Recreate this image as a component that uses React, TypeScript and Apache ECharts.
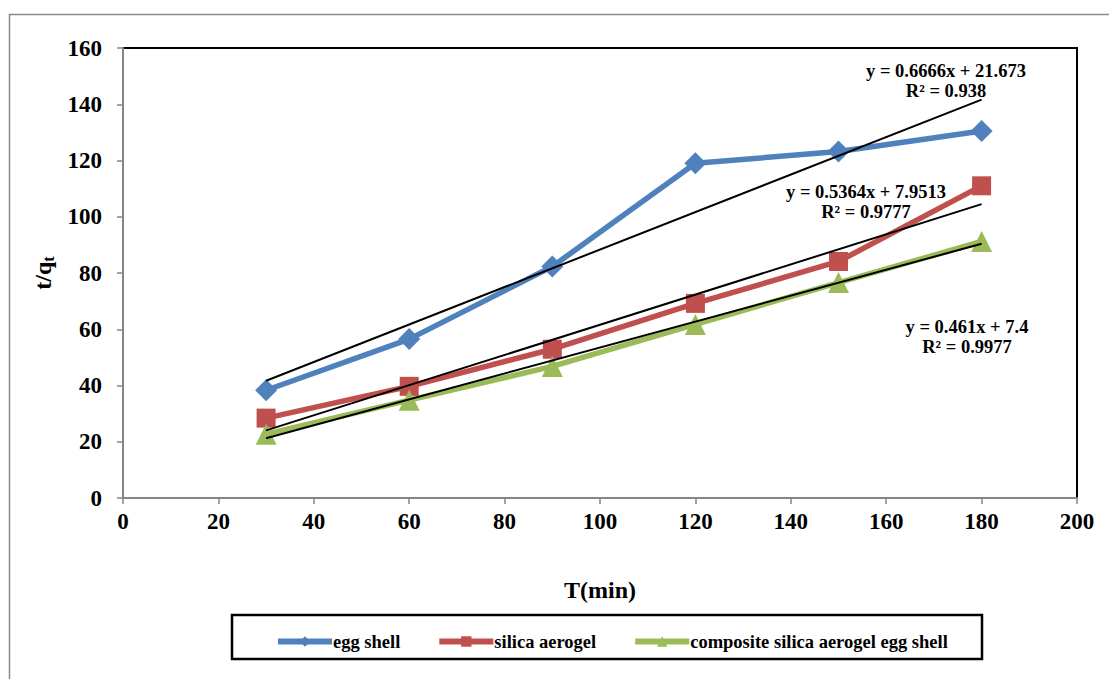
import React, { useEffect, useRef } from "react";
import * as echarts from "echarts";

const timeMin = [30, 60, 90, 120, 150, 180];
const eggShell = [38.3, 56.5, 82.3, 119.0, 123.2, 130.5];
const silicaAerogel = [28.4, 39.7, 52.9, 69.2, 84.1, 111.0];
const composite = [22.7, 34.8, 46.8, 61.7, 76.6, 91.2];

const trendSlopes = [0.6666, 0.5364, 0.461];
const trendIntercepts = [21.673, 7.9513, 7.4];
const trendEquations = ["y = 0.6666x + 21.673", "y = 0.5364x + 7.9513", "y = 0.461x + 7.4"];
const trendR2 = ["R² = 0.938", "R² = 0.9777", "R² = 0.9977"];

const seriesNames = ["egg shell", "silica aerogel", "composite silica aerogel egg shell"];
const xTicks = [0, 200, 20];
const yTicks = [0, 160, 20];

const FONT = "Liberation Serif";

export default function App() {
  const ref = useRef<HTMLDivElement>(null);
  useEffect(() => {
    const chart = echarts.init(ref.current!, null, { renderer: "svg" });
    const pairs = (ys: number[]) => timeMin.map((x, i) => [x, ys[i]]);
    const trend = (k: number) => [
      [timeMin[0], trendSlopes[k] * timeMin[0] + trendIntercepts[k]],
      [timeMin[timeMin.length - 1], trendSlopes[k] * timeMin[timeMin.length - 1] + trendIntercepts[k]],
    ];
    const colors = ["#4F81BD", "#C0504D", "#9BBB59"];
    const symbols = ["diamond", "rect", "triangle"];
    const sizes = [22, 19, 21];
    const datasets = [eggShell, silicaAerogel, composite];
    const labelPos = [
      [946, 71],
      [866, 192],
      [967, 327],
    ];
    const textStyle = { fontFamily: FONT, fontWeight: "bold" as const, color: "#000" };
    chart.setOption({
      animation: false,
      backgroundColor: "#fff",
      grid: {
        left: 123,
        top: 48,
        right: 32,
        bottom: 181,
        show: true,
        borderColor: "#000",
        borderWidth: 2,
        backgroundColor: "transparent",
      },
      xAxis: {
        type: "value",
        min: xTicks[0],
        max: xTicks[1],
        interval: xTicks[2],
        splitLine: { show: false },
        axisLine: { show: true, lineStyle: { color: "#868686", width: 2 } },
        axisTick: { show: true, length: 6, lineStyle: { color: "#868686", width: 1.5 } },
        axisLabel: { ...textStyle, fontSize: 23, margin: 12 },
        name: "T(min)",
        nameLocation: "middle",
        nameGap: 80,
        nameTextStyle: { ...textStyle, fontSize: 24 },
      },
      yAxis: {
        type: "value",
        min: yTicks[0],
        max: yTicks[1],
        interval: yTicks[2],
        splitLine: { show: false },
        axisLine: { show: true, lineStyle: { color: "#868686", width: 2 } },
        axisTick: { show: true, length: 6, lineStyle: { color: "#868686", width: 1.5 } },
        axisLabel: { ...textStyle, fontSize: 23, margin: 21 },
        name: "{a|t/q}{b|t}",
        nameLocation: "middle",
        nameGap: 66,
        nameRotate: 90,
        nameTextStyle: {
          ...textStyle,
          fontSize: 24,
          rich: {
            a: { ...textStyle, fontSize: 24 },
            b: { ...textStyle, fontSize: 16, padding: [12, 0, 0, 0] },
          },
        },
      },
      legend: {
        left: 270,
        top: 627,
        itemWidth: 54,
        itemHeight: 13,
        itemGap: 36,
        textStyle: { ...textStyle, fontSize: 18.5, padding: [0, 0, 0, -4] },
        lineStyle: { width: 6 },
        data: seriesNames,
      },
      graphic: [
        {
          type: "rect",
          shape: { x: 9.5, y: 14.5, width: 1120, height: 700 },
          style: { fill: "none", stroke: "#8a8a8a", lineWidth: 1.5 },
          silent: true,
          z: -1,
        },
        {
          type: "rect",
          shape: { x: 232, y: 615, width: 750, height: 44 },
          style: { fill: "none", stroke: "#000", lineWidth: 2.5 },
          silent: true,
        },
        ...labelPos.flatMap((p, i) => [
          {
            type: "text",
            x: p[0],
            y: p[1],
            style: { text: trendEquations[i], font: `bold 18.5px "${FONT}"`, fill: "#000", align: "center", verticalAlign: "middle" },
            z: 100,
          },
          {
            type: "text",
            x: p[0],
            y: p[1] + 20,
            style: { text: trendR2[i], font: `bold 18.5px "${FONT}"`, fill: "#000", align: "center", verticalAlign: "middle" },
            z: 100,
          },
        ]),
      ],
      series: [
        ...datasets.map((d, i) => ({
          name: seriesNames[i],
          type: "line",
          data: pairs(d),
          symbol: symbols[i],
          symbolSize: sizes[i],
          lineStyle: { color: colors[i], width: 5.5 },
          itemStyle: { color: colors[i] },
          z: 2,
        })),
        ...[0, 1, 2].map((k) => ({
          name: "trend" + k,
          type: "line",
          data: trend(k),
          symbol: "none",
          lineStyle: { color: "#000", width: 2 },
          z: 5,
          silent: true,
        })),
      ],
    });
    return () => chart.dispose();
  }, []);
  return (
    <div
      ref={ref}
      style={{ position: "absolute", left: 0, top: 0, width: 1109, height: 679 }}
    />
  );
}
